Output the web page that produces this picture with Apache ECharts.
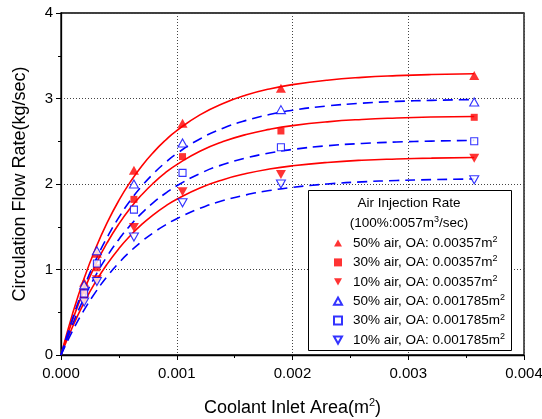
<!DOCTYPE html>
<html><head><meta charset="utf-8">
<script src="https://cdn.jsdelivr.net/npm/echarts@6/dist/echarts.min.js"></script>
<style>html,body{margin:0;padding:0;background:#fff}#c{width:542px;height:419px}</style>
</head><body><div id="c"></div>
<script>
// measured points
const pointX = [0.0002, 0.00031, 0.00063, 0.00105, 0.0019, 0.00357];
const red50 = [0.85, 1.19, 2.16, 2.71, 3.12, 3.27];
const red30 = [0.75, 1.02, 1.82, 2.32, 2.62, 2.78];
const red10 = [0.64, 0.88, 1.49, 1.91, 2.11, 2.30];
const blue50 = [0.82, 1.22, 2.00, 2.48, 2.87, 2.96];
const blue30 = [0.72, 1.07, 1.70, 2.13, 2.43, 2.50];
const blue10 = [0.62, 0.86, 1.38, 1.78, 2.00, 2.05];
// fitted curves
const curveX = [0, 0.0001, 0.0002, 0.0003, 0.0004, 0.0005, 0.0006, 0.0007, 0.0008, 0.0009, 0.001, 0.0012, 0.0014, 0.0016, 0.0018, 0.002, 0.0023, 0.0026, 0.0029, 0.0032, 0.00357];
const fitRed50 = [0, 0.484, 0.898, 1.250, 1.551, 1.808, 2.027, 2.214, 2.373, 2.509, 2.625, 2.809, 2.942, 3.040, 3.111, 3.162, 3.214, 3.247, 3.267, 3.280, 3.289];
const fitRed30 = [0, 0.411, 0.762, 1.061, 1.316, 1.534, 1.720, 1.878, 2.013, 2.129, 2.227, 2.383, 2.496, 2.579, 2.639, 2.683, 2.727, 2.755, 2.772, 2.783, 2.790];
const fitRed10 = [0, 0.331, 0.615, 0.858, 1.066, 1.245, 1.398, 1.530, 1.642, 1.739, 1.822, 1.954, 2.051, 2.122, 2.175, 2.213, 2.252, 2.278, 2.293, 2.303, 2.310];
const fitBlue50 = [0, 0.428, 0.795, 1.109, 1.379, 1.610, 1.808, 1.978, 2.124, 2.249, 2.356, 2.527, 2.652, 2.744, 2.812, 2.862, 2.913, 2.945, 2.966, 2.978, 2.988];
const fitBlue30 = [0, 0.359, 0.668, 0.932, 1.158, 1.352, 1.519, 1.662, 1.784, 1.889, 1.979, 2.122, 2.228, 2.305, 2.362, 2.404, 2.447, 2.474, 2.491, 2.502, 2.510];
const fitBlue10 = [0, 0.283, 0.527, 0.738, 0.921, 1.078, 1.213, 1.331, 1.432, 1.519, 1.594, 1.716, 1.806, 1.873, 1.923, 1.961, 2.000, 2.025, 2.041, 2.051, 2.059];
const seriesNames = ['50% air, OA: 0.00357m2', '30% air, OA: 0.00357m2', '10% air, OA: 0.00357m2',
  '50% air, OA: 0.001785m2', '30% air, OA: 0.001785m2', '10% air, OA: 0.001785m2'];
const xTicks = ['0.000', '0.001', '0.002', '0.003', '0.004'];

const RED = '#ff0000', BLUE = '#0000ff';
const FONT = 'Liberation Sans';
const UP = 'path://M5,0 L10,9 L0,9 Z';
const DOWN = 'path://M0,0 L10,0 L5,9 Z';
const zip = (xs, ys) => xs.map((x, i) => [x, ys[i]]);

function fit(data, color, dashed) {
  return { type: 'line', data: zip(curveX, data), symbol: 'none', smooth: true, silent: true,
    lineStyle: { color, width: 1.6, type: dashed ? [10, 6] : 'solid' }, z: 2 };
}
function pts(name, data, color, symbol, filled, size) {
  return { type: 'scatter', name, data: zip(pointX, data), symbol, symbolSize: size,
    itemStyle: filled ? { color } : { color: '#fff', borderColor: color, borderWidth: 1.1 }, z: 3 };
}

const chart = echarts.init(document.getElementById('c'), null, { renderer: 'canvas' });
chart.setOption({
  animation: false,
  textStyle: { fontFamily: FONT },
  grid: { left: 61, right: 18, top: 13, bottom: 64, show: true, borderColor: '#000', borderWidth: 1.3,
    containLabel: false, outerBoundsMode: 'none' },
  xAxis: {
    type: 'value', min: 0, max: 0.004, interval: 0.001,
    name: '{a|Coolant Inlet Area(m}{s|2}{a|)}', nameLocation: 'middle', nameGap: 42,
    nameTextStyle: { rich: { a: { fontSize: 18, fontFamily: FONT, color: '#000', lineHeight: 22 },
      s: { fontSize: 11, fontFamily: FONT, color: '#000', verticalAlign: 'top', lineHeight: 22 } } },
    axisLine: { lineStyle: { color: '#000', width: 1.3 } },
    axisTick: { length: 5, lineStyle: { color: '#000' } },
    minorTick: { show: true, splitNumber: 2, length: 3, lineStyle: { color: '#000' } },
    axisLabel: { fontSize: 15, color: '#000', margin: 11, fontFamily: FONT,
      formatter: (v) => xTicks[Math.round(v / 0.001)] },
    splitLine: { show: true, lineStyle: { color: '#444', width: 1, type: [1, 2] } }
  },
  yAxis: {
    type: 'value', min: 0, max: 4, interval: 1,
    name: 'Circulation Flow Rate(kg/sec)', nameLocation: 'middle', nameGap: 32,
    nameTextStyle: { fontSize: 18, color: '#000', fontFamily: FONT },
    axisLine: { show: true, lineStyle: { color: '#000', width: 1.3 } },
    axisTick: { show: true, length: 5, lineStyle: { color: '#000' } },
    minorTick: { show: true, splitNumber: 2, length: 3, lineStyle: { color: '#000' } },
    axisLabel: { fontSize: 15, color: '#000', margin: 8, fontFamily: FONT },
    splitLine: { show: true, lineStyle: { color: '#444', width: 1, type: [1, 2] } }
  },
  legend: {
    orient: 'vertical', left: 333, top: 235, padding: 0, itemWidth: 8, itemHeight: 8, itemGap: 4.4,
    data: [
      { name: seriesNames[0], icon: UP },
      { name: seriesNames[1], icon: 'rect' },
      { name: seriesNames[2], icon: DOWN },
      { name: seriesNames[3], icon: UP },
      { name: seriesNames[4], icon: 'rect' },
      { name: seriesNames[5], icon: DOWN }
    ],
    z: 20, selectedMode: false,
    formatter: (n) => '{a|' + n.slice(0, -1) + '}{s|2}',
    textStyle: { padding: [0, 0, 0, 6], rich: {
      a: { fontSize: 13.5, fontFamily: FONT, color: '#000', lineHeight: 16 },
      s: { fontSize: 9, fontFamily: FONT, color: '#000', verticalAlign: 'top', lineHeight: 16 } } }
  },
  graphic: [
    { type: 'rect', z: 10, shape: { x: 308.5, y: 190.5, width: 203, height: 160 },
      style: { fill: '#fff', stroke: '#000', lineWidth: 1 } },
    { type: 'text', z: 20, x: 409, y: 203, style: { text: 'Air Injection Rate', fontSize: 13.5, fontFamily: FONT,
      fill: '#000', align: 'center', verticalAlign: 'middle' } },
    { type: 'text', z: 20, x: 409, y: 223, style: { text: '{a|(100%:0057m}{s|3}{a|/sec)}', align: 'center', verticalAlign: 'middle',
      rich: { a: { fontSize: 13.5, fontFamily: FONT, fill: '#000', lineHeight: 16 },
        s: { fontSize: 9, fontFamily: FONT, fill: '#000', verticalAlign: 'top', lineHeight: 16 } } } }
  ],
  series: [
    fit(fitRed50, RED, false), fit(fitRed30, RED, false), fit(fitRed10, RED, false),
    fit(fitBlue50, BLUE, true), fit(fitBlue30, BLUE, true), fit(fitBlue10, BLUE, true),
    pts(seriesNames[0], red50, RED, UP, true, [10, 9]),
    pts(seriesNames[1], red30, RED, 'rect', true, 7),
    pts(seriesNames[2], red10, RED, DOWN, true, [10, 9]),
    pts(seriesNames[3], blue50, BLUE, UP, false, [9, 8]),
    pts(seriesNames[4], blue30, BLUE, 'rect', false, 7),
    pts(seriesNames[5], blue10, BLUE, DOWN, false, [9, 8])
  ]
});
</script></body></html>
